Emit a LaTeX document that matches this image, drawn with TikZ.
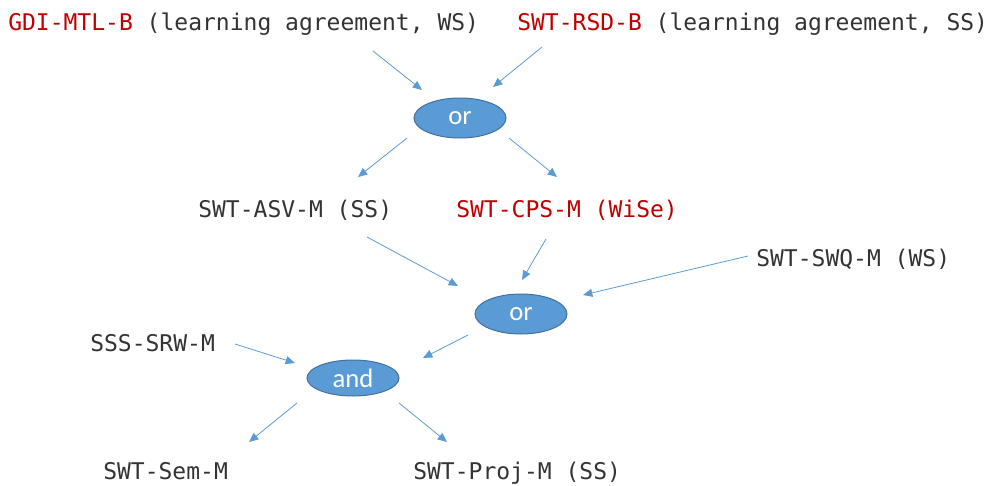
\documentclass[tikz,border=0pt]{standalone}
\usepackage{fontspec}
\setmonofont{DejaVu Sans Mono}
\newfontfamily\lblfont{Carlito}
\usetikzlibrary{arrows.meta,shapes.geometric}
\definecolor{txtgray}{HTML}{333333}
\definecolor{txtred}{HTML}{C00000}
\definecolor{arrblue}{HTML}{5B9BD5}
\definecolor{ellfill}{HTML}{5B9BD5}
\definecolor{elldraw}{HTML}{41719C}
\tikzset{
  course/.style={anchor=base west, inner sep=0pt, text=txtgray,
    font=\ttfamily\fontsize{17.25pt}{20pt}\selectfont},
  logic/.style={ellipse, draw=elldraw, fill=ellfill, line width=0.75pt,
    minimum width=69pt, minimum height=30pt, inner sep=0pt, text=white,
    font=\lblfont\fontsize{20pt}{22pt}\selectfont},
  arr/.style={draw=arrblue, line width=0.6pt,
    -{Triangle[length=7pt,width=6pt,fill=arrblue]}}
}
\begin{document}
\begin{tikzpicture}[x=0.75pt,y=-0.75pt]
\useasboundingbox (0,0) rectangle (991,485);
% texts
\node[course] (gdi) at (8,30.5) {\textcolor{txtred}{GDI-MTL-B} (learning agreement, WS)};
\node[course] (rsd) at (517,30.5) {\textcolor{txtred}{SWT-RSD-B} (learning agreement, SS)};
\node[course] (asv) at (198,217) {SWT-ASV-M (SS)};
\node[course,text=txtred] (cps) at (456,217) {SWT-CPS-M (WiSe)};
\node[course] (swq) at (756,266) {SWT-SWQ-M (WS)};
\node[course] (srw) at (90,351) {SSS-SRW-M};
\node[course] (sem) at (103,479) {SWT-Sem-M};
\node[course] (proj) at (413,479) {SWT-Proj-M (SS)};
% logic nodes
\node[logic] (or1) at (460,118) {\raisebox{-2pt}{or}};
\node[logic] (or2) at (521,314) {\raisebox{-2pt}{or}};
\node[logic,minimum height=27pt] (and) at (353,378) {and};
% connector end points
\coordinate (c1s) at (373,51);  \coordinate (c1e) at (422,90);
\coordinate (c2s) at (542,47);  \coordinate (c2e) at (493,87);
\coordinate (c3s) at (407,138); \coordinate (c3e) at (358,177);
\coordinate (c4s) at (509,138); \coordinate (c4e) at (557,177);
\coordinate (c5s) at (367,237); \coordinate (c5e) at (458,286);
\coordinate (c6s) at (546,239); \coordinate (c6e) at (522,280);
\coordinate (c7s) at (748,256); \coordinate (c7e) at (583,295);
\coordinate (c8s) at (468,335); \coordinate (c8e) at (423,358);
\coordinate (c9s) at (235,344); \coordinate (c9e) at (295,363);
\coordinate (c10s) at (297,403); \coordinate (c10e) at (249,442);
\coordinate (c11s) at (399,403); \coordinate (c11e) at (447,442);
% connectors
\draw[arr] (c1s) -- (c1e);
\draw[arr] (c2s) -- (c2e);
\draw[arr] (c3s) -- (c3e);
\draw[arr] (c4s) -- (c4e);
\draw[arr] (c5s) -- (c5e);
\draw[arr] (c6s) -- (c6e);
\draw[arr] (c7s) -- (c7e);
\draw[arr] (c8s) -- (c8e);
\draw[arr] (c9s) -- (c9e);
\draw[arr] (c10s) -- (c10e);
\draw[arr] (c11s) -- (c11e);
\end{tikzpicture}
\end{document}
